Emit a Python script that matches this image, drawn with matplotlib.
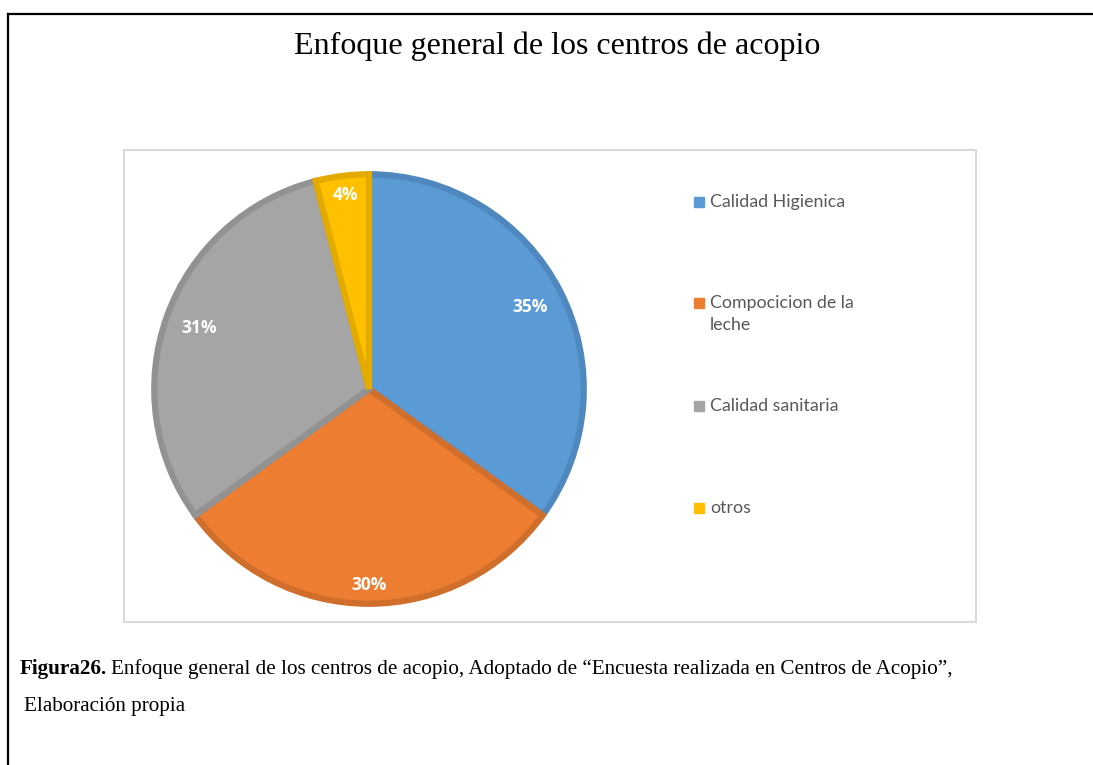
import matplotlib.pyplot as plt
from matplotlib.patches import Rectangle
from matplotlib.lines import Line2D

categorias = ["Calidad Higienica", "Compocicion de la\nleche", "Calidad sanitaria", "otros"]
valores = [35, 30, 31, 4]
colores = ["#5B9BD5", "#ED7D31", "#A5A5A5", "#FFC000"]
bordes = ["#4F88BE", "#D06E2C", "#929292", "#E3AA00"]

W, H = 1093, 765
fig = plt.figure(figsize=(W / 100, H / 100), dpi=100)


def fx(px):
    return px / W


def fy(py):
    return 1 - py / H


# marco exterior (recortado a la derecha y abajo)
fig.add_artist(Line2D([fx(8), 1.0], [fy(14), fy(14)], color="black", lw=1.6,
                      transform=fig.transFigure))
fig.add_artist(Line2D([fx(8), fx(8)], [fy(14), 0.0], color="black", lw=1.6,
                      transform=fig.transFigure))

# caja del grafico
fig.add_artist(Rectangle((fx(124), fy(622)), fx(976) - fx(124), fy(150) - fy(622),
                         fill=False, edgecolor="#D9D9D9", lw=1.5,
                         transform=fig.transFigure))

fig.text(fx(557), fy(46), "Enfoque general de los centros de acopio",
         ha="center", va="center", family="Liberation Serif", fontsize=23)

# pastel
cx, cy, r = 369, 389, 218
ax = fig.add_axes([fx(cx - r), fy(cy + r), 2 * r / W, 2 * r / H])
wedges, _, autotexts = ax.pie(
    valores, colors=colores, startangle=90, counterclock=False,
    radius=0.985, autopct="%1.0f%%", pctdistance=0.84,
    wedgeprops=dict(linewidth=4.5),
    textprops=dict(color="white", fontsize=12.5, fontweight="bold", family="Open Sans"))
for w, b in zip(wedges, bordes):
    w.set_edgecolor(b)
    w.set_joinstyle("miter")
x1, y1 = autotexts[1].get_position()
autotexts[1].set_position((x1, -0.9))
x3, y3 = autotexts[3].get_position()
autotexts[3].set_position((x3 * 1.05, 0.89))
ax.set_xlim(-1, 1)
ax.set_ylim(-1, 1)
ax.set_aspect("equal")
ax.axis("off")

# leyenda
ley_y = [202, 303, 406, 508]
for lab, col, yy in zip(categorias, colores, ley_y):
    fig.add_artist(Rectangle((fx(694), fy(yy + 5)), 10 / W, 10 / H, color=col,
                             transform=fig.transFigure))
    fig.text(fx(710), fy(yy - 8), lab, ha="left", va="top", fontsize=12.8,
             color="#595959", family="Lato", linespacing=1.5)

# pie de figura
renderer = fig.canvas.get_renderer()
t1 = fig.text(fx(20), fy(669), "Figura26.", ha="left", va="center",
              family="Liberation Serif", fontsize=15.2, fontweight="bold")
bb = t1.get_window_extent(renderer)
fig.text(bb.x1 / W + fx(4), fy(669),
         "Enfoque general de los centros de acopio, Adoptado de \u201cEncuesta realizada en Centros de Acopio\u201d,",
         ha="left", va="center", family="Liberation Serif", fontsize=15.2)
fig.text(fx(24), fy(706), "Elaboración propia", ha="left", va="center",
         family="Liberation Serif", fontsize=15.2)

fig.savefig("out.png", dpi=100)
